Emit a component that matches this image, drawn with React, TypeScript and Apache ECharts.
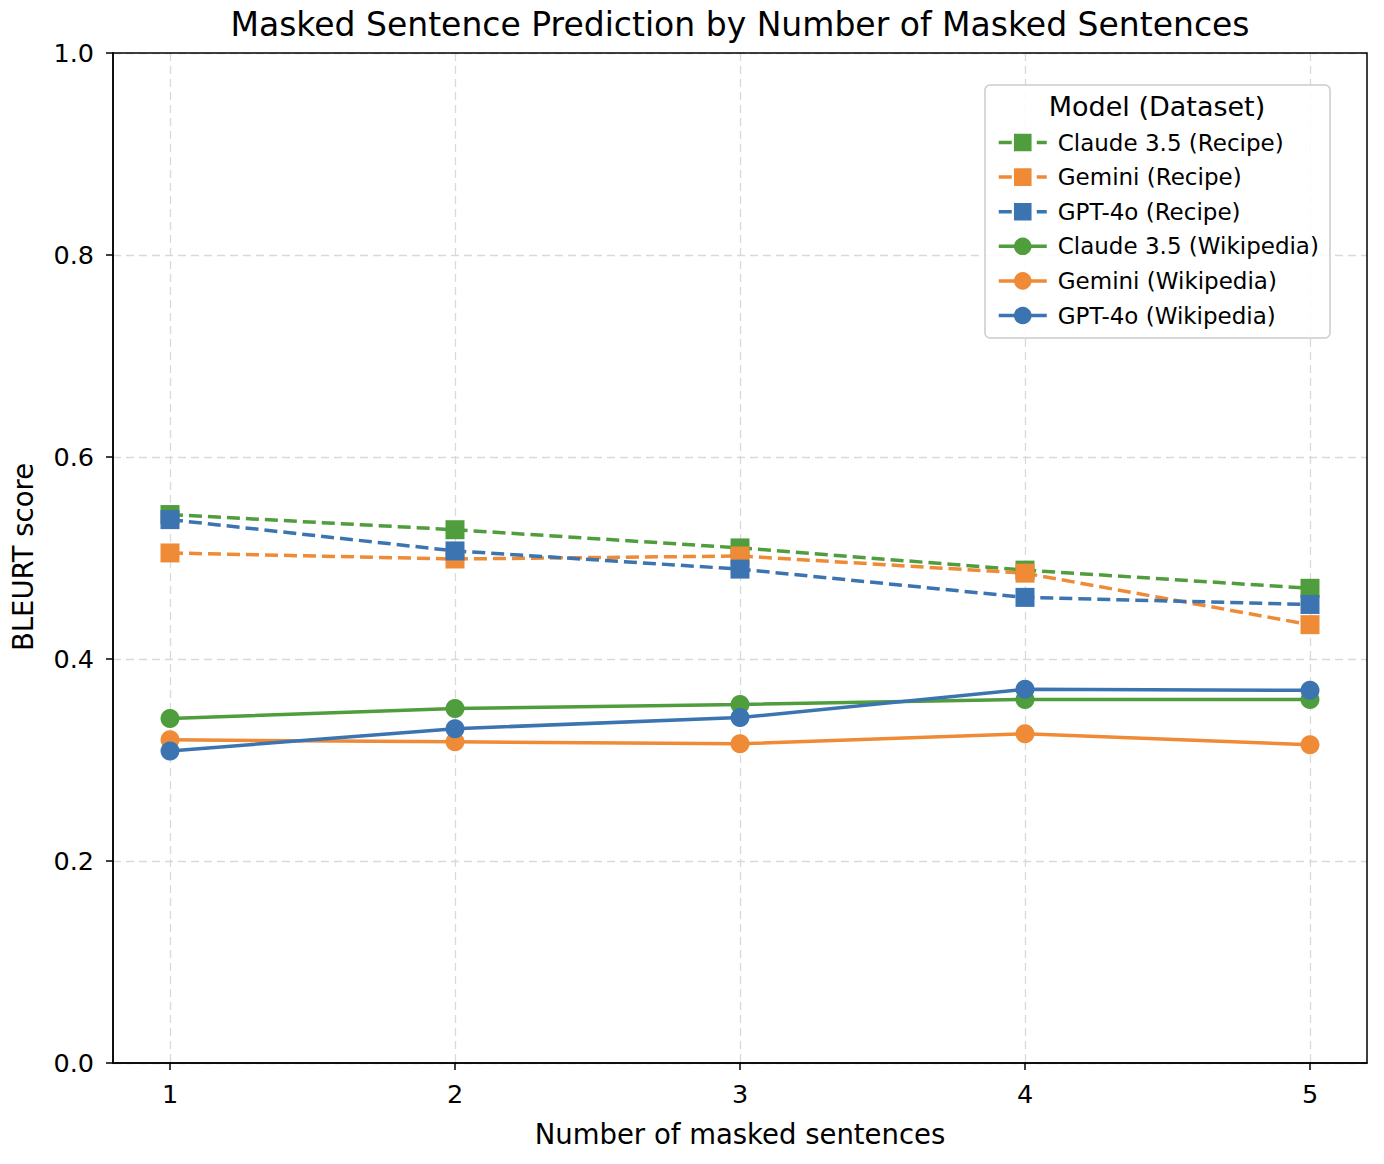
import React, { useEffect, useRef } from "react";
import * as echarts from "echarts";

const xValues = [1, 2, 3, 4, 5];
const yTicks = [0, 0.2, 0.4, 0.6, 0.8, 1.0];

const claudeRecipe = [0.543, 0.528, 0.510, 0.488, 0.470];
const geminiRecipe = [0.505, 0.499, 0.502, 0.485, 0.434];
const gptRecipe = [0.538, 0.507, 0.489, 0.461, 0.454];
const claudeWiki = [0.341, 0.351, 0.355, 0.360, 0.360];
const geminiWiki = [0.320, 0.318, 0.316, 0.326, 0.315];
const gptWiki = [0.309, 0.331, 0.342, 0.370, 0.369];

const GREEN = "#4f9d3c";
const ORANGE = "#ef8a36";
const BLUE = "#3b74b1";

const FONT = "DejaVu Sans";

type S = { name: string; data: number[]; color: string; dashed: boolean };
const seriesDefs: S[] = [
  { name: "Claude 3.5 (Recipe)", data: claudeRecipe, color: GREEN, dashed: true },
  { name: "Gemini (Recipe)", data: geminiRecipe, color: ORANGE, dashed: true },
  { name: "GPT-4o (Recipe)", data: gptRecipe, color: BLUE, dashed: true },
  { name: "Claude 3.5 (Wikipedia)", data: claudeWiki, color: GREEN, dashed: false },
  { name: "Gemini (Wikipedia)", data: geminiWiki, color: ORANGE, dashed: false },
  { name: "GPT-4o (Wikipedia)", data: gptWiki, color: BLUE, dashed: false },
];

export default function App() {
  const ref = useRef<HTMLDivElement>(null);
  useEffect(() => {
    if (!ref.current) return;
    const chart = echarts.init(ref.current, null, { renderer: "svg" });
    chart.setOption({
      animation: false,
      backgroundColor: "#ffffff",
      textStyle: { fontFamily: FONT },
      grid: {
        left: 113,
        top: 53,
        width: 1254,
        height: 1010,
        show: false,
      },
      xAxis: {
        type: "value",
        min: 0.8,
        max: 5.2,
        axisLine: { show: true, onZero: false, lineStyle: { color: "#000", width: 1.5 } },
        axisTick: {
          show: true,
          length: 7,
          inside: false,
          customValues: xValues,
          lineStyle: { color: "#000", width: 1.5 },
        },
        axisLabel: {
          customValues: xValues,
          fontSize: 25.5,
          color: "#000",
          fontFamily: FONT,
          margin: 18,
          formatter: (v: number) => String(v),
        },
        splitLine: {
          show: true,
          lineStyle: { color: "#d9d9d9", type: [8, 5], width: 1.3 },
        },
      },
      yAxis: {
        type: "value",
        min: 0,
        max: 1,
        interval: 0.2,
        axisLine: { show: true, lineStyle: { color: "#000", width: 1.5 } },
        axisTick: { show: true, length: 7, inside: false, lineStyle: { color: "#000", width: 1.5 } },
        axisLabel: {
          fontSize: 25.5,
          color: "#000",
          fontFamily: FONT,
          margin: 19,
          formatter: (v: number) => v.toFixed(1),
        },
        splitLine: {
          show: true,
          lineStyle: { color: "#d9d9d9", type: [8, 5], width: 1.3 },
        },
      },
      legend: {
        orient: "vertical",
        left: 992,
        top: 126,
        itemWidth: 48,
        itemHeight: 22,
        itemGap: 11.6,
        z: 6,
        lineStyle: { width: 3.5 },
        textStyle: { fontSize: 23, color: "#000", fontFamily: FONT, padding: [0, 0, 0, 6] },
        data: seriesDefs.map((s) => s.name),
      },
      graphic: [
        {
          type: "rect",
          z: 5,
          shape: { x: 985, y: 85, width: 345, height: 253, r: 5 },
          style: { fill: "rgba(255,255,255,0.85)", stroke: "#cccccc", lineWidth: 1.5 },
        },
        {
          type: "rect",
          z: 10,
          silent: true,
          shape: { x: 113, y: 53, width: 1254, height: 1010 },
          style: { fill: "none", stroke: "#000", lineWidth: 1.5 },
        },
        {
          type: "text",
          z: 6,
          x: 1157,
          y: 106,
          style: {
            text: "Model (Dataset)",
            fontSize: 27,
            fontFamily: FONT,
            fill: "#000",
            textAlign: "center",
            textVerticalAlign: "middle",
          },
        },
        {
          type: "text",
          x: 740,
          y: 24,
          style: {
            text: "Masked Sentence Prediction by Number of Masked Sentences",
            fontSize: 33,
            fontFamily: FONT,
            fill: "#000",
            textAlign: "center",
            textVerticalAlign: "middle",
          },
        },
        {
          type: "text",
          x: 740,
          y: 1134,
          style: {
            text: "Number of masked sentences",
            fontSize: 27.5,
            fontFamily: FONT,
            fill: "#000",
            textAlign: "center",
            textVerticalAlign: "middle",
          },
        },
        {
          type: "text",
          x: 23,
          y: 557,
          rotation: Math.PI / 2,
          style: {
            text: "BLEURT score",
            fontSize: 27.5,
            fontFamily: FONT,
            fill: "#000",
            textAlign: "center",
            textVerticalAlign: "middle",
          },
        },
      ],
      series: seriesDefs.map((s) => ({
        name: s.name,
        type: "line",
        data: xValues.map((x, i) => [x, s.data[i]]),
        symbol: s.dashed ? "rect" : "circle",
        symbolSize: 19,
        showSymbol: true,
        itemStyle: { color: s.color },
        lineStyle: { color: s.color, width: 3.5, type: s.dashed ? [13, 6] : "solid" },
        emphasis: { disabled: true },
      })),
    });
    return () => chart.dispose();
  }, []);
  return (
    <div
      ref={ref}
      style={{ position: "absolute", left: 0, top: 0, width: 1384, height: 1164 }}
    />
  );
}
